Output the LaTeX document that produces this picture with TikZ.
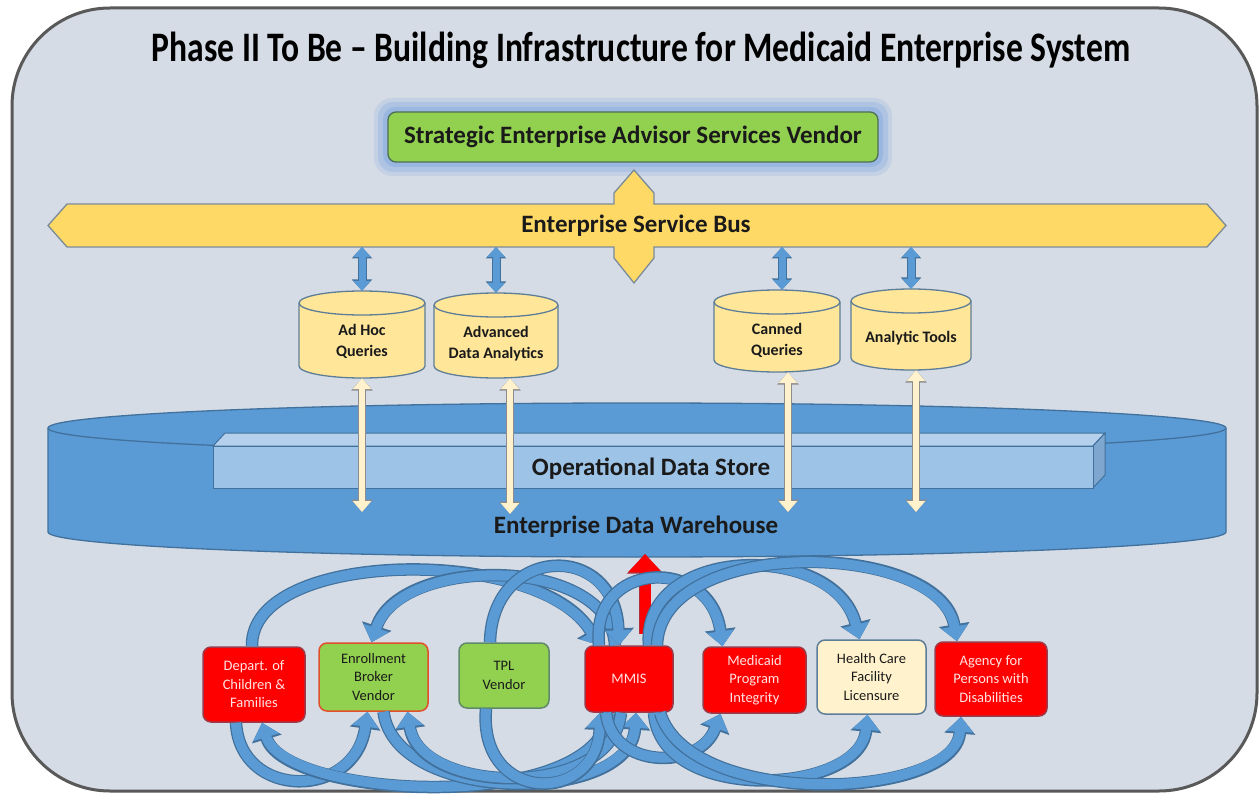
\documentclass[tikz,border=0pt]{standalone}
\usepackage{fontspec}
\setmainfont{Carlito}
\usetikzlibrary{arrows.meta,calc}
\definecolor{bg}{HTML}{D6DCE5}
\definecolor{frame}{HTML}{595959}
\definecolor{esbfill}{HTML}{FFD966}
\definecolor{esbline}{HTML}{7A8B99}
\definecolor{cylfill}{HTML}{FFE699}
\definecolor{cylline}{HTML}{5E7E98}
\definecolor{ablue}{HTML}{5B9BD5}
\definecolor{adark}{HTML}{41719C}
\definecolor{odsfront}{HTML}{9DC3E6}
\definecolor{odstop}{HTML}{B4D0EC}
\definecolor{odsside}{HTML}{7FA6CE}
\definecolor{creamc}{HTML}{FFF2CC}
\definecolor{creamline}{HTML}{8C8C8C}
\definecolor{gfill}{HTML}{92D050}
\definecolor{gline}{HTML}{5F8A6A}
\definecolor{rfill}{HTML}{FF0000}
\definecolor{rline}{HTML}{9C3A4A}
\definecolor{pinktxt}{HTML}{FFE3E3}
\definecolor{glow}{HTML}{7FA8E0}
\definecolor{darktxt}{HTML}{1A1A1A}
\definecolor{orangeline}{HTML}{E0502A}
\newcommand\drawcyl[7]{%
  \pgfmathsetmacro\myL{#2-#5}\pgfmathsetmacro\myR{#2+#5}%
  \pgfmathsetmacro\myT{-(#3)-12}\pgfmathsetmacro\myB{-(#4)+12}%
  \filldraw[fill=cylfill,draw=cylline,line width=1.3pt] (\myL,\myT) -- (\myL,\myB) arc[start angle=180,end angle=360,x radius=#5,y radius=12] -- (\myR,\myT) arc[start angle=0,end angle=180,x radius=#5,y radius=12] -- cycle;
  \draw[draw=cylline,line width=1.3pt] (\myL,\myT) arc[start angle=180,end angle=360,x radius=#5,y radius=12];
  \node[inner sep=0pt,minimum width={2*#5},minimum height={#4-#3}] (#1) at (#2,{-(#3+#4)/2}) {};
  \node[cyltxt] (#1-t) at (#2,-#6) {#7};
}
\tikzset{
  cyltxt/.style={font=\fontsize{16}{21}\selectfont\bfseries,align=center,text=darktxt},
  bigtxt/.style={font=\fontsize{25}{29}\selectfont\bfseries,text=darktxt},
  boxbase/.style={rounded corners=8pt,line width=1.5pt,align=center,font=\fontsize{14.5}{18.5}\selectfont,inner sep=0pt},
  redbox/.style={boxbase,fill=rfill,draw=rline,text=pinktxt},
  greenbox/.style={boxbase,fill=gfill,draw=gline,text=darktxt},
  creambox/.style={boxbase,fill=creamc,draw=cylline,text=darktxt},
  carrow/.style={line width=10pt,draw=ablue,-{Triangle[width=26pt,length=15pt]},
     preaction={draw=adark,line width=12.5pt,-{Triangle[width=30pt,length=17pt]}}},
  bluedbl/.style={line width=7pt,draw=ablue,{Triangle[width=17pt,length=10pt]}-{Triangle[width=17pt,length=10pt]},
     preaction={draw=adark,line width=9pt,{Triangle[width=20pt,length=11.5pt]}-{Triangle[width=20pt,length=11.5pt]}}},
  creamdbl/.style={line width=6.5pt,draw=creamc,{Triangle[width=18pt,length=11pt]}-{Triangle[width=18pt,length=11pt]},
     preaction={draw=creamline,line width=8.5pt,{Triangle[width=21pt,length=12.5pt]}-{Triangle[width=21pt,length=12.5pt]}}},
  redarrow/.style={line width=11pt,draw=rfill,-{Triangle[width=32pt,length=18pt]},
     preaction={draw=rline!80!red,line width=12.5pt,-{Triangle[width=35pt,length=19.5pt]}}}
}
\begin{document}
\begin{tikzpicture}[x=1pt,y=1pt]
\useasboundingbox (0,0) rectangle (1260,-794);
\fill[white] (0,0) rectangle (1260,-794);
% frame
\filldraw[draw=frame,line width=3pt,fill=bg,rounded corners=98pt] (12,-8) rectangle (1257,-791);
% title
\node[font=\fontsize{42}{48}\selectfont\bfseries,text=black] (title) at (641,-50) {\scalebox{0.8}[1]{Phase II To Be -- Building Infrastructure for Medicaid Enterprise System}};
% vendor with glow
\fill[glow,opacity=0.2,rounded corners=18pt] (374,-98) rectangle (892,-176);
\fill[glow,opacity=0.3,rounded corners=15pt] (378,-102) rectangle (888,-172);
\fill[glow,opacity=0.45,rounded corners=12pt] (383,-107) rectangle (883,-167);
\node[boxbase,fill=gfill,draw=gline!80!black,line width=1.3pt,minimum width=490pt,minimum height=50pt,font=\fontsize{25}{29}\selectfont\bfseries,text=darktxt] (sv) at (633,-137) {Strategic Enterprise Advisor Services Vendor};
% ESB
\filldraw[fill=esbfill,draw=esbline,line width=1.3pt] (48,-225.5) -- (67,-204) -- (614,-204) -- (614,-193) -- (634,-170) -- (654,-193) -- (654,-204) -- (1207,-204) -- (1226,-225.5) -- (1207,-247) -- (654,-247) -- (654,-258) -- (634,-283) -- (614,-258) -- (614,-247) -- (67,-247) -- cycle;
\node[bigtxt] (esb) at (636,-226) {Enterprise Service Bus};
\coordinate (busbot) at (0,-247);
% cylinders
\drawcyl{adhoc}{362}{291}{378}{63}{341}{Ad Hoc\\Queries}
\drawcyl{adv}{496}{293}{378}{62}{344}{Advanced\\Data Analytics}
\drawcyl{canned}{777}{290}{372}{63}{340}{Canned\\Queries}
\drawcyl{tools}{911}{289}{370}{60}{338}{Analytic Tools}
\draw[bluedbl] (adhoc.north |- busbot) -- (adhoc.north);
\draw[bluedbl] (adv.north |- busbot) -- (adv.north);
\draw[bluedbl] ([xshift=5pt]canned.north |- busbot) -- ([xshift=5pt]canned.north);
\draw[bluedbl] (tools.north |- busbot) -- (tools.north);
% EDW
\filldraw[fill=ablue,draw=adark,line width=1.3pt] (48,-428) -- (48,-532) arc[start angle=180,end angle=360,x radius=589,y radius=25] -- (1226,-428) arc[start angle=0,end angle=180,x radius=589,y radius=25] -- cycle;
\draw[draw=adark,line width=1.3pt] (48,-428) arc[start angle=180,end angle=360,x radius=589,y radius=25];
% ODS
\filldraw[fill=odstop,draw=adark,line width=1pt] (213,-446) -- (225,-433) -- (1105,-433) -- (1093,-446) -- cycle;
\filldraw[fill=odsside,draw=adark,line width=1pt] (1093,-446) -- (1105,-433) -- (1105,-475) -- (1093,-488) -- cycle;
\filldraw[fill=odsfront,draw=adark,line width=1pt] (213,-446) rectangle (1093,-488);
\node[bigtxt] (ods) at (651,-469) {Operational Data Store};
\node[bigtxt] (edw) at (636,-527) {Enterprise Data Warehouse};
\coordinate (d1) at (362,-512);
\coordinate (d2) at (510,-514);
\coordinate (d3) at (788,-512);
\coordinate (d4) at (916,-512);
\draw[creamdbl] (adhoc.south) -- (d1);
\draw[creamdbl] ([xshift=14pt]adv.south) -- (d2);
\draw[creamdbl] ([xshift=11pt]canned.south) -- (d3);
\draw[creamdbl] ([xshift=5pt]tools.south) -- (d4);
% bottom boxes
\node[redbox,minimum width=102pt,minimum height=75pt] (dep) at (254,-684.5) {Depart. of\\Children \&\\Families};
\node[greenbox,draw=orangeline,minimum width=109pt,minimum height=68pt] (enr) at (373.5,-677) {Enrollment\\Broker\\Vendor};
\node[greenbox,minimum width=90pt,minimum height=65pt] (tpl) at (504,-675.5) {TPL\\Vendor};
\node[redbox,minimum width=88pt,minimum height=66pt] (mmis) at (629,-679) {MMIS};
\node[redbox,minimum width=103pt,minimum height=66pt] (mpi) at (754.5,-680) {Medicaid\\Program\\Integrity};
\node[creambox,minimum width=109pt,minimum height=74pt] (hcf) at (871.5,-677) {Health Care\\Facility\\Licensure};
\node[redbox,minimum width=112pt,minimum height=74pt] (apd) at (991,-679) {Agency for\\Persons with\\Disabilities};
% red arrow
\coordinate (redtail) at (645,-634);
\coordinate (edwbot) at (645,-554);
\draw[redarrow] (redtail) -- (edwbot);
% top arcs
\draw[carrow] ([xshift=-2pt]dep.north) .. controls (250,-548) and (540,-545) .. ([xshift=-30pt]mmis.north);
\draw[carrow] ([xshift=-14pt]mmis.north) .. controls (610,-555) and (400,-555) .. ([xshift=-2pt]enr.north);
\draw[carrow] ([xshift=-14pt]tpl.north) .. controls (492,-545) and (615,-540) .. ([xshift=-10pt]mmis.north);
\draw[carrow] ([xshift=-30pt]mmis.north) .. controls (590,-560) and (710,-555) .. ([xshift=-32pt]mpi.north);
\draw[carrow] ([xshift=20pt]mmis.north) .. controls (640,-545) and (835,-540) .. ([xshift=-12pt]hcf.north);
\draw[carrow] ([xshift=28pt]mmis.north) .. controls (660,-535) and (940,-540) .. ([xshift=-34pt]apd.north);
% bottom arcs
\draw[carrow] ([xshift=-18pt]dep.south) .. controls (240,-800) and (355,-800) .. ([xshift=-6pt]enr.south);
\draw[carrow] ([xshift=-20pt]mmis.south) .. controls (600,-815) and (285,-800) .. ([xshift=8pt]dep.south);
\draw[carrow] ([xshift=10pt]enr.south) .. controls (395,-805) and (630,-805) .. ([xshift=7pt]mmis.south);
\draw[carrow] ([xshift=-8pt]mmis.south) .. controls (612,-800) and (420,-795) .. ([xshift=34pt]enr.south);
\draw[carrow] ([xshift=-18pt]tpl.south) .. controls (478,-805) and (598,-805) .. ([xshift=-29pt]mmis.south);
\draw[carrow] ([xshift=-23pt]mmis.south) .. controls (612,-770) and (700,-770) .. ([xshift=-34pt]mpi.south);
\draw[carrow] ([xshift=25pt]mmis.south) .. controls (660,-805) and (860,-795) .. ([xshift=-4pt]hcf.south);
\draw[carrow] ([xshift=31pt]mmis.south) .. controls (690,-810) and (955,-800) .. ([xshift=-30pt]apd.south);
\end{tikzpicture}
\end{document}
